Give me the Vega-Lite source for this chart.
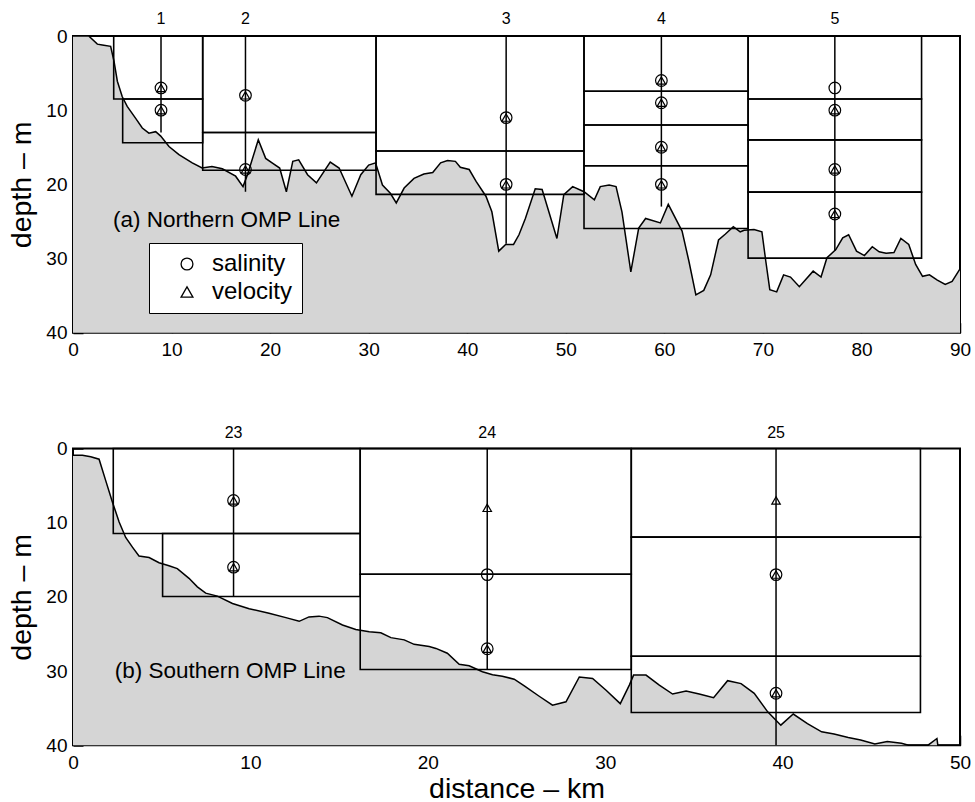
{
  "$schema": "https://vega.github.io/schema/vega-lite/v6.json",
  "background": "white",
  "padding": {"left": 6, "top": 10, "right": 5, "bottom": 0},
  "bounds": "flush",
  "spacing": 115.5,
  "config": {
    "font": "Liberation Sans",
    "view": {"stroke": "black", "strokeWidth": 2},
    "axis": {
      "domain": false,
      "grid": false,
      "ticks": true,
      "tickColor": "black",
      "tickSize": -10,
      "tickWidth": 1.5,
      "labelFontSize": 19,
      "labelColor": "black",
      "labelFont": "Liberation Sans",
      "labelFlush": false,
      "labelOverlap": false,
      "titleFont": "Liberation Sans",
      "titleFontSize": 28.5,
      "titleFontWeight": "normal",
      "titleColor": "black"
    },
    "axisX": {"labelPadding": 18, "titlePadding": 2},
    "axisY": {"labelPadding": 16, "titlePadding": 9}
  },
  "datasets": {
    "bathyN": [
      {"km": 0, "depth": 0}, {"km": 1.6, "depth": 0}, {"km": 2.47, "depth": 1.1}, {"km": 2.97, "depth": 1.2},
      {"km": 3.82, "depth": 1.4}, {"km": 4.16, "depth": 3.4}, {"km": 4.5, "depth": 6.1}, {"km": 5.0, "depth": 8.2},
      {"km": 5.5, "depth": 9.5}, {"km": 6.36, "depth": 11.1}, {"km": 7.03, "depth": 12.4}, {"km": 7.7, "depth": 13.1},
      {"km": 8.39, "depth": 12.9}, {"km": 8.9, "depth": 13.5}, {"km": 9.74, "depth": 14.9}, {"km": 10.75, "depth": 16.0},
      {"km": 12.1, "depth": 17.1}, {"km": 13.1, "depth": 17.8}, {"km": 14.1, "depth": 17.6}, {"km": 15.15, "depth": 17.9},
      {"km": 16.5, "depth": 18.9}, {"km": 17.25, "depth": 20.3}, {"km": 17.7, "depth": 18.7}, {"km": 18.8, "depth": 14.0},
      {"km": 19.55, "depth": 16.5}, {"km": 20.2, "depth": 17.1}, {"km": 20.97, "depth": 17.8}, {"km": 21.65, "depth": 21.0},
      {"km": 22.3, "depth": 16.9}, {"km": 22.9, "depth": 16.7}, {"km": 23.8, "depth": 18.7}, {"km": 24.7, "depth": 19.8},
      {"km": 26.1, "depth": 17.0}, {"km": 27.0, "depth": 17.8}, {"km": 28.3, "depth": 21.6}, {"km": 29.2, "depth": 18.7},
      {"km": 30.0, "depth": 17.4}, {"km": 30.7, "depth": 17.1}, {"km": 31.4, "depth": 20.1}, {"km": 32.2, "depth": 21.2},
      {"km": 32.8, "depth": 22.5}, {"km": 33.6, "depth": 20.5}, {"km": 34.6, "depth": 19.2}, {"km": 35.6, "depth": 18.6},
      {"km": 36.5, "depth": 18.4}, {"km": 37.3, "depth": 17.1}, {"km": 38.0, "depth": 16.8}, {"km": 38.8, "depth": 16.9},
      {"km": 39.3, "depth": 17.7}, {"km": 40.2, "depth": 18.0}, {"km": 40.9, "depth": 19.6}, {"km": 41.9, "depth": 21.6},
      {"km": 42.5, "depth": 23.7}, {"km": 43.2, "depth": 29.0}, {"km": 43.9, "depth": 28.1}, {"km": 44.7, "depth": 28.1},
      {"km": 45.25, "depth": 26.8}, {"km": 45.9, "depth": 24.6}, {"km": 46.9, "depth": 20.6}, {"km": 47.6, "depth": 20.7},
      {"km": 49.1, "depth": 27.3}, {"km": 49.8, "depth": 21.4}, {"km": 50.7, "depth": 20.3}, {"km": 51.85, "depth": 21.0},
      {"km": 52.9, "depth": 22.1}, {"km": 53.5, "depth": 20.3}, {"km": 54.4, "depth": 20.1}, {"km": 55.1, "depth": 20.3},
      {"km": 55.7, "depth": 23.7}, {"km": 56.6, "depth": 31.8}, {"km": 57.4, "depth": 25.9}, {"km": 58.1, "depth": 24.6},
      {"km": 59.6, "depth": 25.2}, {"km": 60.4, "depth": 22.7}, {"km": 61.8, "depth": 26.3}, {"km": 62.5, "depth": 30.4},
      {"km": 63.2, "depth": 34.9}, {"km": 64.0, "depth": 34.3}, {"km": 64.7, "depth": 32.2}, {"km": 65.5, "depth": 27.5},
      {"km": 66.2, "depth": 26.7}, {"km": 67.0, "depth": 25.7}, {"km": 67.7, "depth": 26.4}, {"km": 68.1, "depth": 26.2},
      {"km": 69.1, "depth": 26.1}, {"km": 69.9, "depth": 26.4}, {"km": 70.3, "depth": 30.4}, {"km": 70.7, "depth": 34.2},
      {"km": 71.4, "depth": 34.5}, {"km": 72.1, "depth": 32.2}, {"km": 72.8, "depth": 32.5}, {"km": 73.7, "depth": 33.8},
      {"km": 75.1, "depth": 31.7}, {"km": 75.9, "depth": 32.5}, {"km": 76.5, "depth": 29.9}, {"km": 77.4, "depth": 28.8},
      {"km": 78.1, "depth": 27.2}, {"km": 78.7, "depth": 26.8}, {"km": 79.5, "depth": 29.0}, {"km": 80.3, "depth": 29.6},
      {"km": 81.1, "depth": 28.4}, {"km": 81.8, "depth": 29.1}, {"km": 82.5, "depth": 29.3}, {"km": 83.3, "depth": 29.2},
      {"km": 84.0, "depth": 27.3}, {"km": 84.8, "depth": 28.1}, {"km": 85.5, "depth": 30.8}, {"km": 86.2, "depth": 32.4},
      {"km": 86.9, "depth": 32.2}, {"km": 87.7, "depth": 32.9}, {"km": 88.5, "depth": 33.5}, {"km": 89.2, "depth": 33.1},
      {"km": 90, "depth": 31.4}
    ],
    "boxesN": [
      {"k1": 4.13, "k2": 13.16, "d1": 0, "d2": 8.5},
      {"k1": 5.04, "k2": 13.16, "d1": 8.5, "d2": 14.4},
      {"k1": 13.16, "k2": 30.75, "d1": 0, "d2": 13.0},
      {"k1": 13.16, "k2": 30.75, "d1": 13.0, "d2": 18.1},
      {"k1": 30.75, "k2": 51.85, "d1": 0, "d2": 15.5},
      {"k1": 30.75, "k2": 51.85, "d1": 15.5, "d2": 21.35},
      {"k1": 51.85, "k2": 68.5, "d1": 0, "d2": 7.45},
      {"k1": 51.85, "k2": 68.5, "d1": 7.45, "d2": 12.0},
      {"k1": 51.85, "k2": 68.5, "d1": 12.0, "d2": 17.5},
      {"k1": 51.85, "k2": 68.5, "d1": 17.5, "d2": 25.95},
      {"k1": 68.5, "k2": 86.1, "d1": 0, "d2": 8.5},
      {"k1": 68.5, "k2": 86.1, "d1": 8.5, "d2": 14.0},
      {"k1": 68.5, "k2": 86.1, "d1": 14.0, "d2": 21.05},
      {"k1": 68.5, "k2": 86.1, "d1": 21.05, "d2": 29.95}
    ],
    "stationsN": [
      {"station": "1", "km": 8.93, "top": 0, "bottom": 13},
      {"station": "2", "km": 17.5, "top": 0, "bottom": 21},
      {"station": "3", "km": 43.95, "top": 0, "bottom": 28},
      {"station": "4", "km": 59.7, "top": 0, "bottom": 23},
      {"station": "5", "km": 77.3, "top": 0, "bottom": 29}
    ],
    "samplesN": [
      {"km": 8.93, "depth": 7, "type": "salinity"}, {"km": 8.93, "depth": 7, "type": "velocity"},
      {"km": 8.93, "depth": 10, "type": "salinity"}, {"km": 8.93, "depth": 10, "type": "velocity"},
      {"km": 17.5, "depth": 8, "type": "salinity"}, {"km": 17.5, "depth": 8, "type": "velocity"},
      {"km": 17.5, "depth": 18, "type": "salinity"}, {"km": 17.5, "depth": 18, "type": "velocity"},
      {"km": 43.95, "depth": 11, "type": "salinity"}, {"km": 43.95, "depth": 11, "type": "velocity"},
      {"km": 43.95, "depth": 20, "type": "salinity"}, {"km": 43.95, "depth": 20, "type": "velocity"},
      {"km": 59.7, "depth": 6, "type": "salinity"}, {"km": 59.7, "depth": 6, "type": "velocity"},
      {"km": 59.7, "depth": 9, "type": "salinity"}, {"km": 59.7, "depth": 9, "type": "velocity"},
      {"km": 59.7, "depth": 15, "type": "salinity"}, {"km": 59.7, "depth": 15, "type": "velocity"},
      {"km": 59.7, "depth": 20, "type": "salinity"}, {"km": 59.7, "depth": 20, "type": "velocity"},
      {"km": 77.3, "depth": 7, "type": "salinity"},
      {"km": 77.3, "depth": 10, "type": "salinity"}, {"km": 77.3, "depth": 10, "type": "velocity"},
      {"km": 77.3, "depth": 18, "type": "salinity"}, {"km": 77.3, "depth": 18, "type": "velocity"},
      {"km": 77.3, "depth": 24, "type": "salinity"}, {"km": 77.3, "depth": 24, "type": "velocity"}
    ],
    "labelN": [{"km": 4.06, "depth": 24.85, "text": "(a) Northern OMP Line"}],
    "bathyS": [
      {"km": 0, "depth": 0.9}, {"km": 0.53, "depth": 0.9}, {"km": 1.0, "depth": 1.1}, {"km": 1.47, "depth": 1.44},
      {"km": 1.84, "depth": 4.3}, {"km": 2.22, "depth": 7.2}, {"km": 2.6, "depth": 9.9}, {"km": 2.97, "depth": 12.0},
      {"km": 3.35, "depth": 13.3}, {"km": 3.72, "depth": 14.5}, {"km": 4.29, "depth": 14.7}, {"km": 4.85, "depth": 15.4},
      {"km": 5.41, "depth": 15.8}, {"km": 5.88, "depth": 16.2}, {"km": 6.54, "depth": 17.5}, {"km": 7.01, "depth": 18.65},
      {"km": 7.48, "depth": 19.5}, {"km": 8.14, "depth": 19.9}, {"km": 8.99, "depth": 20.9}, {"km": 9.93, "depth": 21.6},
      {"km": 11.05, "depth": 22.2}, {"km": 12.0, "depth": 22.8}, {"km": 12.75, "depth": 23.3}, {"km": 13.3, "depth": 22.7},
      {"km": 13.87, "depth": 22.6}, {"km": 14.34, "depth": 22.8}, {"km": 15.19, "depth": 23.8}, {"km": 15.94, "depth": 24.4},
      {"km": 16.7, "depth": 24.7}, {"km": 17.35, "depth": 24.85}, {"km": 17.92, "depth": 25.5}, {"km": 18.67, "depth": 25.8},
      {"km": 19.23, "depth": 26.4}, {"km": 20.08, "depth": 26.7}, {"km": 20.46, "depth": 26.95}, {"km": 21.1, "depth": 27.6},
      {"km": 21.77, "depth": 29.1}, {"km": 22.33, "depth": 29.3}, {"km": 23.08, "depth": 30.1}, {"km": 23.65, "depth": 30.5},
      {"km": 24.2, "depth": 30.7}, {"km": 24.87, "depth": 31.1}, {"km": 25.44, "depth": 32.0}, {"km": 26.28, "depth": 33.4},
      {"km": 27.03, "depth": 34.6}, {"km": 27.79, "depth": 34.15}, {"km": 28.54, "depth": 30.8}, {"km": 29.29, "depth": 31.0},
      {"km": 30.05, "depth": 32.6}, {"km": 30.85, "depth": 34.4}, {"km": 31.36, "depth": 31.9}, {"km": 31.6, "depth": 30.55},
      {"km": 32.3, "depth": 30.55}, {"km": 33.05, "depth": 31.9}, {"km": 33.8, "depth": 33.1}, {"km": 34.56, "depth": 32.7},
      {"km": 35.3, "depth": 33.1}, {"km": 36.11, "depth": 33.6}, {"km": 36.9, "depth": 31.3}, {"km": 37.66, "depth": 31.7},
      {"km": 38.4, "depth": 33.0}, {"km": 39.16, "depth": 35.5}, {"km": 39.9, "depth": 37.3}, {"km": 40.6, "depth": 35.8},
      {"km": 41.4, "depth": 37.1}, {"km": 42.2, "depth": 38.2}, {"km": 42.9, "depth": 38.5}, {"km": 43.7, "depth": 38.95},
      {"km": 44.4, "depth": 39.3}, {"km": 45.2, "depth": 39.85}, {"km": 45.9, "depth": 39.5}, {"km": 46.7, "depth": 39.75},
      {"km": 47.1, "depth": 40}, {"km": 48.2, "depth": 40}, {"km": 48.7, "depth": 39.1}, {"km": 48.75, "depth": 40},
      {"km": 50, "depth": 40}
    ],
    "boxesS": [
      {"k1": 2.27, "k2": 16.19, "d1": 0, "d2": 11.45},
      {"k1": 5.05, "k2": 16.19, "d1": 11.45, "d2": 19.95},
      {"k1": 16.19, "k2": 31.47, "d1": 0, "d2": 16.95},
      {"k1": 16.19, "k2": 31.47, "d1": 16.95, "d2": 29.8},
      {"k1": 31.47, "k2": 47.77, "d1": 0, "d2": 11.95},
      {"k1": 31.47, "k2": 47.77, "d1": 11.95, "d2": 28.0},
      {"k1": 31.47, "k2": 47.77, "d1": 28.0, "d2": 35.6}
    ],
    "stationsS": [
      {"station": "23", "km": 9.05, "top": 0, "bottom": 19.95},
      {"station": "24", "km": 23.35, "top": 0, "bottom": 29.8},
      {"station": "25", "km": 39.63, "top": 0, "bottom": 40}
    ],
    "samplesS": [
      {"km": 9.05, "depth": 7, "type": "salinity"}, {"km": 9.05, "depth": 7, "type": "velocity"},
      {"km": 9.05, "depth": 16, "type": "salinity"}, {"km": 9.05, "depth": 16, "type": "velocity"},
      {"km": 23.35, "depth": 8, "type": "velocity"},
      {"km": 23.35, "depth": 17, "type": "salinity"},
      {"km": 23.35, "depth": 27, "type": "salinity"}, {"km": 23.35, "depth": 27, "type": "velocity"},
      {"km": 39.63, "depth": 7, "type": "velocity"},
      {"km": 39.63, "depth": 17, "type": "salinity"}, {"km": 39.63, "depth": 17, "type": "velocity"},
      {"km": 39.63, "depth": 33, "type": "salinity"}, {"km": 39.63, "depth": 33, "type": "velocity"}
    ],
    "labelS": [{"km": 2.35, "depth": 30.0, "text": "(b) Southern OMP Line"}]
  },
  "vconcat": [
    {
      "width": 887,
      "height": 296.7,
      "layer": [
        {
          "data": {"name": "bathyN"},
          "mark": {"type": "area", "color": "#d5d5d5"},
          "encoding": {
            "x": {"field": "km", "type": "quantitative", "scale": {"domain": [0, 90], "nice": false},
                  "axis": {"title": null, "values": [0, 10, 20, 30, 40, 50, 60, 70, 80, 90]}},
            "y": {"field": "depth", "type": "quantitative", "scale": {"domain": [0, 40], "reverse": true, "nice": false},
                  "axis": {"title": "depth – m", "values": [0, 10, 20, 30, 40]}},
            "y2": {"datum": 40}
          }
        },
        {
          "data": {"name": "bathyN"},
          "mark": {"type": "line", "color": "black", "strokeWidth": 1.5},
          "encoding": {
            "x": {"field": "km", "type": "quantitative"},
            "y": {"field": "depth", "type": "quantitative"}
          }
        },
        {
          "data": {"name": "boxesN"},
          "mark": {"type": "rect", "filled": false, "color": "black", "strokeWidth": 1.6},
          "encoding": {
            "x": {"field": "k1", "type": "quantitative"},
            "x2": {"field": "k2"},
            "y": {"field": "d1", "type": "quantitative"},
            "y2": {"field": "d2"}
          }
        },
        {
          "data": {"name": "stationsN"},
          "mark": {"type": "rule", "color": "black", "strokeWidth": 1.5},
          "encoding": {
            "x": {"field": "km", "type": "quantitative"},
            "y": {"field": "top", "type": "quantitative"},
            "y2": {"field": "bottom"}
          }
        },
        {
          "data": {"name": "stationsN"},
          "mark": {"type": "text", "fontSize": 16, "dy": -17, "baseline": "middle", "align": "center", "color": "black"},
          "encoding": {
            "x": {"field": "km", "type": "quantitative"},
            "y": {"field": "top", "type": "quantitative"},
            "text": {"field": "station", "type": "nominal"}
          }
        },
        {
          "data": {"name": "samplesN"},
          "mark": {"type": "point", "filled": false, "color": "black", "strokeWidth": 1.2, "opacity": 1},
          "encoding": {
            "x": {"field": "km", "type": "quantitative"},
            "y": {"field": "depth", "type": "quantitative"},
            "shape": {
              "field": "type", "type": "nominal",
              "scale": {"domain": ["salinity", "velocity"], "range": ["circle", "triangle-up"]},
              "legend": {"orient": "none", "legendX": 76, "legendY": 207, "title": null,
                         "fillColor": "white", "strokeColor": "black", "padding": 9,
                         "symbolOffset": 17, "labelFontSize": 24, "labelOffset": 13, "rowPadding": 4,
                         "labelColor": "black", "labelFont": "Liberation Sans", "symbolStrokeWidth": 1.3,
                         "symbolSize": 140,
                         "encode": {"symbols": {"update": {"size": {"signal": "datum.value === 'velocity' ? 60 : 150"}}}}}
            },
            "size": {"condition": {"test": "datum.type === 'velocity'", "value": 72}, "value": 135}
          }
        },
        {
          "data": {"name": "labelN"},
          "mark": {"type": "text", "fontSize": 22.5, "align": "left", "baseline": "middle", "color": "black"},
          "encoding": {
            "x": {"field": "km", "type": "quantitative"},
            "y": {"field": "depth", "type": "quantitative"},
            "text": {"field": "text", "type": "nominal"}
          }
        }
      ]
    },
    {
      "width": 887,
      "height": 296.7,
      "layer": [
        {
          "data": {"name": "bathyS"},
          "mark": {"type": "area", "color": "#d5d5d5"},
          "encoding": {
            "x": {"field": "km", "type": "quantitative", "scale": {"domain": [0, 50], "nice": false},
                  "axis": {"title": "distance – km", "values": [0, 10, 20, 30, 40, 50]}},
            "y": {"field": "depth", "type": "quantitative", "scale": {"domain": [0, 40], "reverse": true, "nice": false},
                  "axis": {"title": "depth – m", "values": [0, 10, 20, 30, 40]}},
            "y2": {"datum": 40}
          }
        },
        {
          "data": {"name": "bathyS"},
          "mark": {"type": "line", "color": "black", "strokeWidth": 1.5},
          "encoding": {
            "x": {"field": "km", "type": "quantitative"},
            "y": {"field": "depth", "type": "quantitative"}
          }
        },
        {
          "data": {"name": "boxesS"},
          "mark": {"type": "rect", "filled": false, "color": "black", "strokeWidth": 1.6},
          "encoding": {
            "x": {"field": "k1", "type": "quantitative"},
            "x2": {"field": "k2"},
            "y": {"field": "d1", "type": "quantitative"},
            "y2": {"field": "d2"}
          }
        },
        {
          "data": {"name": "stationsS"},
          "mark": {"type": "rule", "color": "black", "strokeWidth": 1.5},
          "encoding": {
            "x": {"field": "km", "type": "quantitative"},
            "y": {"field": "top", "type": "quantitative"},
            "y2": {"field": "bottom"}
          }
        },
        {
          "data": {"name": "stationsS"},
          "mark": {"type": "text", "fontSize": 16, "dy": -16, "baseline": "middle", "align": "center", "color": "black"},
          "encoding": {
            "x": {"field": "km", "type": "quantitative"},
            "y": {"field": "top", "type": "quantitative"},
            "text": {"field": "station", "type": "nominal"}
          }
        },
        {
          "data": {"name": "samplesS"},
          "mark": {"type": "point", "filled": false, "color": "black", "strokeWidth": 1.2, "opacity": 1},
          "encoding": {
            "x": {"field": "km", "type": "quantitative"},
            "y": {"field": "depth", "type": "quantitative"},
            "shape": {
              "field": "type", "type": "nominal",
              "scale": {"domain": ["salinity", "velocity"], "range": ["circle", "triangle-up"]},
              "legend": null
            },
            "size": {"condition": {"test": "datum.type === 'velocity'", "value": 72}, "value": 135}
          }
        },
        {
          "data": {"name": "labelS"},
          "mark": {"type": "text", "fontSize": 22.5, "align": "left", "baseline": "middle", "color": "black"},
          "encoding": {
            "x": {"field": "km", "type": "quantitative"},
            "y": {"field": "depth", "type": "quantitative"},
            "text": {"field": "text", "type": "nominal"}
          }
        }
      ]
    }
  ]
}
